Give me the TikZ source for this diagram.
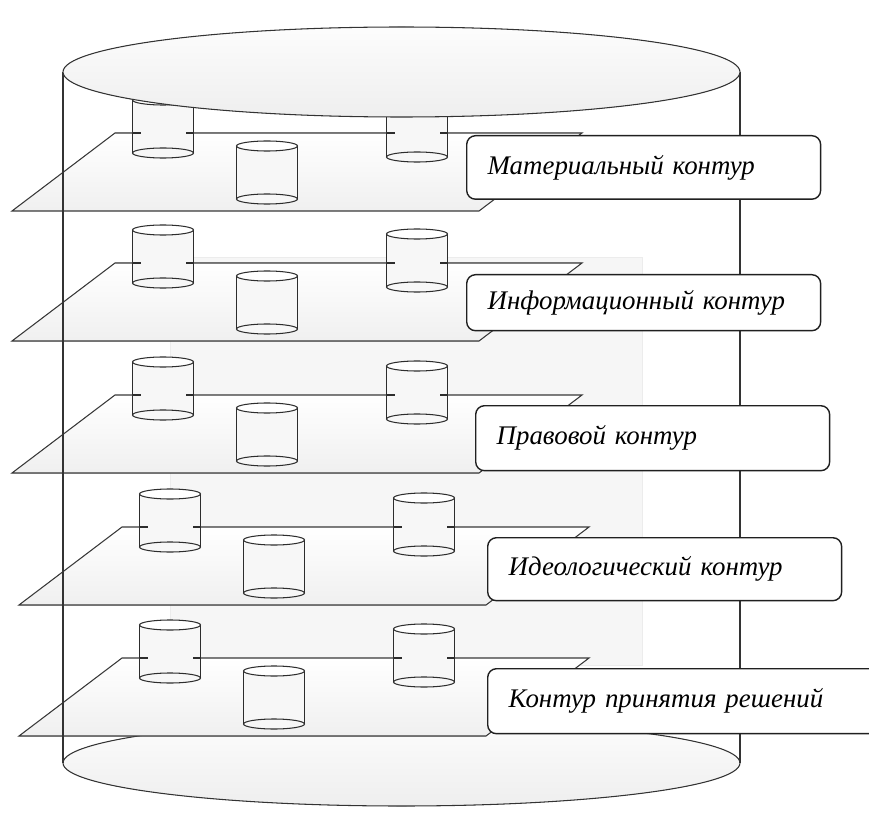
\documentclass[tikz,border=0pt]{standalone}
\usepackage{fontspec}
\setmainfont{Liberation Serif}
\usetikzlibrary{positioning}

\newcommand{\bochka}[3]{%
  \path[fill=gray!6] (#1-30.5,#2) rectangle (#1+30.5,#3);
  \filldraw[bochka] (#1,#3) ellipse [x radius=30.5, y radius=5];
  \draw[bochka] (#1-30.5,#2) -- (#1-30.5,#3) (#1+30.5,#2) -- (#1+30.5,#3);
  \filldraw[bochka, fill=white] (#1,#2) ellipse [x radius=30.5, y radius=5];
}

\begin{document}
\begin{tikzpicture}[x=0.02cm, y=-0.02cm,
    sloj/.style={draw=gray!45!black, line width=0.6pt, top color=white, bottom color=gray!12},
    bochka/.style={draw=gray!35!black, line width=0.6pt, fill=gray!6},
    disk/.style={draw=gray!40!black, line width=0.6pt, top color=gray!2, bottom color=gray!13},
    kontur/.style={draw=gray!25!black, line width=0.8pt, fill=white, rounded corners=5pt,
      anchor=north west, inner xsep=0.42cm, text width=#1, align=left,
      font=\fontsize{15.3}{18}\selectfont\itshape},
    kontur/.default=6.24cm]
	\clip (0,0) rectangle (869,814);
	\filldraw[draw=gray!15, fill=gray!7] (170,257) rectangle (642,665);
	\filldraw[disk] (401.5,763) ellipse [x radius=338.5, y radius=43];
	\foreach \y/\d in {133/0, 263/0, 395/0, 527/7, 658/7} {
		\filldraw[sloj] (115+\d,\y) -- (582+\d,\y) -- (479+\d,\y+78) -- (12+\d,\y+78) -- cycle;
		\bochka{163+\d}{\y-33}{\y+20}
		\bochka{267+\d}{\y+13}{\y+66}
		\bochka{417+\d}{\y-29}{\y+24}
		\draw[bochka] (132.5+\d,\y) -- ++(8,0) (193.5+\d,\y) -- ++(-8,0)
			(386.5+\d,\y) -- ++(8,0) (447.5+\d,\y) -- ++(-8,0);
	}
	\draw[gray!40!black, line width=0.6pt] (63,72) -- (63,763) (740,72) -- (740,763);
	\filldraw[disk] (401.5,72) ellipse [x radius=338.5, y radius=45];
	\node[kontur, minimum height=1.27cm] (k1) at (466,135) {Материальный контур};
	\node[kontur, minimum height=1.12cm] (k2) at (466,274) {Информационный контур};
	\node[kontur, minimum height=1.3cm] (k3) at (475,405) {Правовой контур};
	\node[kontur, minimum height=1.26cm] (k4) at (487,537) {Идеологический контур};
	\node[kontur=7.5cm, minimum height=1.3cm] (k5) at (487,668) {Контур принятия решений};
\end{tikzpicture}
\end{document}
